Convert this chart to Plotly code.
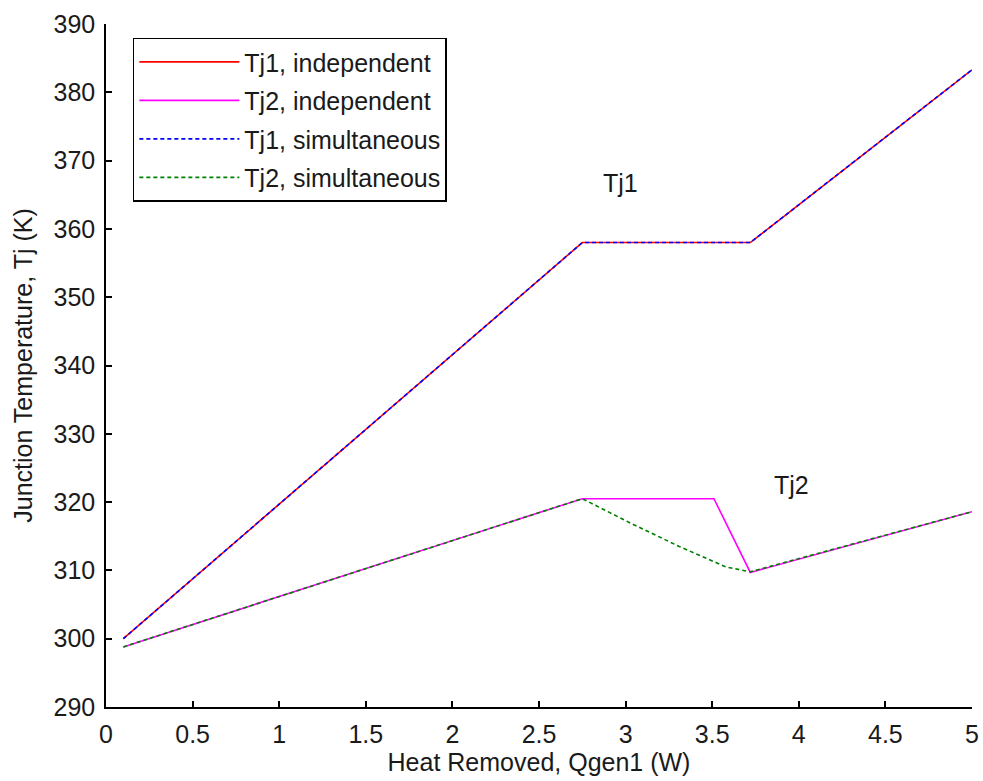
import plotly.graph_objects as go

# Heat removed, Qgen1 (W), and junction temperatures (K)
q_tj1 = [0.1, 2.75, 3.72, 5.0]
tj1_independent = [300.0, 358.0, 358.0, 383.3]
tj1_simultaneous = [300.0, 358.0, 358.0, 383.3]

q_tj2_ind = [0.1, 2.75, 3.51, 3.72, 5.0]
tj2_independent = [298.8, 320.5, 320.5, 309.7, 318.6]

q_tj2_sim = [0.1, 2.75, 3.03, 3.31, 3.58, 3.72, 5.0]
tj2_simultaneous = [298.8, 320.5, 316.9, 313.5, 310.5, 309.8, 318.6]

series_names = ["Tj1, independent", "Tj2, independent",
                "Tj1, simultaneous", "Tj2, simultaneous"]

FONT = "Liberation Sans, Arial, sans-serif"
TXT = "#1a1a1a"
DASH = "4px,3px"
FS = 25

fig = go.Figure()
fig.add_trace(go.Scatter(x=q_tj1, y=tj1_independent, mode="lines",
                         name=series_names[0], legendgroup="a",
                         line=dict(color="#ff0000", width=1.6)))
fig.add_trace(go.Scatter(x=q_tj2_ind, y=tj2_independent, mode="lines",
                         name=series_names[1], legendgroup="b",
                         line=dict(color="#ff00ff", width=1.6)))
fig.add_trace(go.Scatter(x=q_tj1, y=tj1_simultaneous, mode="lines",
                         name=series_names[2], legendgroup="c",
                         line=dict(color="#0000ff", width=1.6, dash=DASH)))
fig.add_trace(go.Scatter(x=q_tj2_sim, y=tj2_simultaneous, mode="lines",
                         name=series_names[3], legendgroup="d",
                         line=dict(color="#008000", width=1.6, dash=DASH)))

fig.add_annotation(x=2.973, y=366.7, text="Tj1", showarrow=False,
                   font=dict(family=FONT, size=FS, color=TXT))
fig.add_annotation(x=3.958, y=322.5, text="Tj2", showarrow=False,
                   font=dict(family=FONT, size=FS, color=TXT))

axis_common = dict(showgrid=False, zeroline=False, showline=True,
                   linecolor="#000", linewidth=1.5, ticks="inside",
                   ticklen=6, tickcolor="#000", tickwidth=1.5,
                   mirror=False, automargin=False,
                   tickfont=dict(family=FONT, size=FS, color=TXT))

fig.update_xaxes(range=[0, 5], dtick=0.5, tick0=0,
                 ticklabelstandoff=4,
                 title=dict(text="Heat Removed, Qgen1 (W)",
                            font=dict(family=FONT, size=FS, color=TXT),
                            standoff=6),
                 **axis_common)
fig.update_yaxes(range=[290, 390], dtick=10, tick0=290,
                 ticklabelstandoff=4,
                 title=dict(text="Junction Temperature, Tj (K)",
                            font=dict(family=FONT, size=FS, color=TXT),
                            standoff=14),
                 **axis_common)

fig.update_layout(
    width=983, height=781,
    margin=dict(l=106, r=11, t=24, b=74),
    plot_bgcolor="white", paper_bgcolor="white",
    font=dict(family=FONT, color=TXT),
    legend=dict(x=0.031, y=0.98, xanchor="left", yanchor="top",
                bgcolor="white", bordercolor="#000", borderwidth=1.5,
                font=dict(family=FONT, size=FS, color=TXT),
                traceorder="grouped", tracegroupgap=3, itemwidth=100),
)

fig.write_html("out.html")
